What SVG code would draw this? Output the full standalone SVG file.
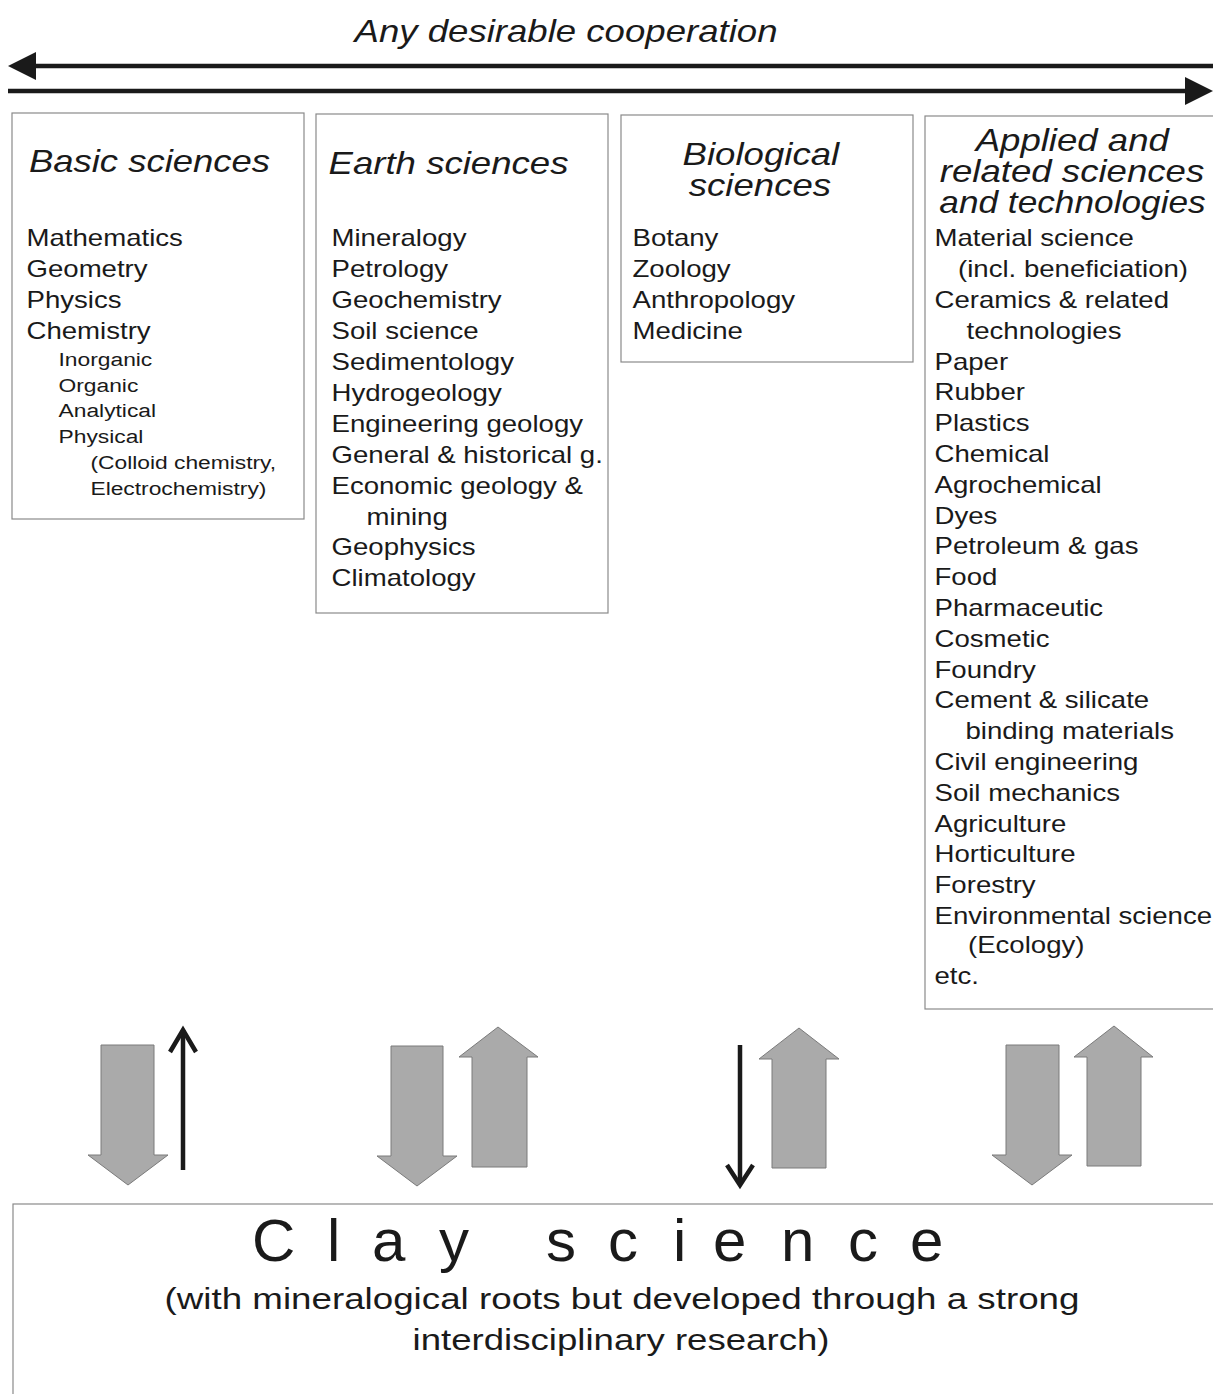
<svg xmlns="http://www.w3.org/2000/svg" width="1213" height="1394" viewBox="0 0 1213 1394">
<style>
text{font-family:"Liberation Sans",Arial,sans-serif;fill:#1a1a1a}
.item{font-size:23px}
.sub{font-size:19px}
.hdr{font-size:30.5px;font-style:italic}
.box{fill:#fff;stroke:#8a8a8a;stroke-width:1.2}
.blk{fill:#aaaaaa;stroke:#7a7a7a;stroke-width:1}
.thin{fill:none;stroke:#1a1a1a;stroke-width:4.5;stroke-linejoin:miter}
.bar{stroke:#1a1a1a;stroke-width:4.5;fill:none}
</style>
<defs>
<marker id="tri" markerUnits="userSpaceOnUse" markerWidth="30" markerHeight="30" viewBox="0 -15 30 30" refX="0" refY="0" orient="auto">
<path d="M0,-14 L28,0 L0,14 Z" fill="#1a1a1a"/>
</marker>
</defs>
<rect width="1213" height="1394" fill="#fff"/>

<g id="connectors">
<text x="566" y="42" font-size="30.5" font-style="italic" text-anchor="middle" textLength="423" lengthAdjust="spacingAndGlyphs">Any desirable cooperation</text>
<line class="bar" x1="1213" y1="66" x2="36" y2="66" marker-end="url(#tri)"/>
<line class="bar" x1="8" y1="91" x2="1185" y2="91" marker-end="url(#tri)"/>
<!-- basic sciences -->
<path class="blk" d="M101,1045 L154,1045 L154,1155 L168,1155 L128,1185 L88,1155 L101,1155 Z"/>
<path class="thin" d="M183,1170 L183,1030"/>
<path class="thin" d="M170,1052 L183,1030 L196,1052"/>
<!-- earth sciences -->
<path class="blk" d="M391,1046 L443,1046 L443,1156 L457,1156 L417,1186 L377,1156 L391,1156 Z"/>
<path class="blk" d="M472,1167 L527,1167 L527,1057 L538,1057 L498,1027 L459,1057 L472,1057 Z"/>
<!-- biological sciences -->
<path class="thin" d="M740,1045 L740,1183"/>
<path class="thin" d="M727,1165 L740,1185 L753,1165"/>
<path class="blk" d="M772,1168 L826,1168 L826,1059 L839,1059 L799,1028 L759,1059 L772,1059 Z"/>
<!-- applied sciences -->
<path class="blk" d="M1006,1045 L1059,1045 L1059,1155 L1072,1155 L1032,1185 L992,1155 L1006,1155 Z"/>
<path class="blk" d="M1087,1166 L1141,1166 L1141,1057 L1153,1057 L1114,1026 L1074,1057 L1087,1057 Z"/>
</g>

<g id="basic-sciences">
<rect class="box" x="12" y="113" width="292" height="406"/>
<g transform="translate(26.5,0) scale(1.2,1)">
<text class="hdr" x="2" y="172" textLength="201" lengthAdjust="spacingAndGlyphs">Basic sciences</text>
<text class="item" x="0" y="246.5">Mathematics</text>
<text class="item" x="0" y="277.5">Geometry</text>
<text class="item" x="0" y="308.5">Physics</text>
<text class="item" x="0" y="339.5">Chemistry</text>
<text class="sub" x="26.7" y="366">Inorganic</text>
<text class="sub" x="26.7" y="392">Organic</text>
<text class="sub" x="26.7" y="417">Analytical</text>
<text class="sub" x="26.7" y="443">Physical</text>
<text class="sub" x="53.3" y="469">(Colloid chemistry,</text>
<text class="sub" x="53.3" y="495">Electrochemistry)</text>
</g>
</g>

<g id="earth-sciences">
<rect class="box" x="316" y="114" width="292" height="499"/>
<g transform="translate(331.5,0) scale(1.2,1)">
<text class="hdr" x="-2.5" y="174" textLength="200" lengthAdjust="spacingAndGlyphs">Earth sciences</text>
<text class="item" x="0" y="246.5">Mineralogy</text>
<text class="item" x="0" y="277.4">Petrology</text>
<text class="item" x="0" y="308.3">Geochemistry</text>
<text class="item" x="0" y="339.2">Soil science</text>
<text class="item" x="0" y="370.1">Sedimentology</text>
<text class="item" x="0" y="401">Hydrogeology</text>
<text class="item" x="0" y="431.9">Engineering geology</text>
<text class="item" x="0" y="462.8">General &amp; historical g.</text>
<text class="item" x="0" y="493.7">Economic geology &amp;</text>
<text class="item" x="29.2" y="524.6">mining</text>
<text class="item" x="0" y="555.5">Geophysics</text>
<text class="item" x="0" y="586.4">Climatology</text>
</g>
</g>

<g id="biological-sciences">
<rect class="box" x="621" y="115" width="292" height="247"/>
<g transform="translate(632.5,0) scale(1.2,1)">
<text class="hdr" x="107" y="165" text-anchor="middle">Biological</text>
<text class="hdr" x="106.2" y="196" text-anchor="middle">sciences</text>
<text class="item" x="0" y="246.5">Botany</text>
<text class="item" x="0" y="277.5">Zoology</text>
<text class="item" x="0" y="308.5">Anthropology</text>
<text class="item" x="0" y="339.5">Medicine</text>
</g>
</g>

<g id="applied-sciences">
<rect class="box" x="925" y="116" width="300" height="893"/>
<g transform="translate(934.5,0) scale(1.2,1)">
<text class="hdr" x="114.8" y="151" text-anchor="middle">Applied and</text>
<text class="hdr" x="114.6" y="182" text-anchor="middle">related sciences</text>
<text class="hdr" x="115" y="213" text-anchor="middle" textLength="222" lengthAdjust="spacingAndGlyphs">and technologies</text>
<text class="item" x="0" y="246.5">Material science</text>
<text class="item" x="19.6" y="277.3">(incl. beneficiation)</text>
<text class="item" x="0" y="308.1">Ceramics &amp; related</text>
<text class="item" x="26.7" y="338.9">technologies</text>
<text class="item" x="0" y="369.7">Paper</text>
<text class="item" x="0" y="400.5">Rubber</text>
<text class="item" x="0" y="431.3">Plastics</text>
<text class="item" x="0" y="462.1">Chemical</text>
<text class="item" x="0" y="492.9">Agrochemical</text>
<text class="item" x="0" y="523.7">Dyes</text>
<text class="item" x="0" y="554.5">Petroleum &amp; gas</text>
<text class="item" x="0" y="585.3">Food</text>
<text class="item" x="0" y="616.1">Pharmaceutic</text>
<text class="item" x="0" y="646.9">Cosmetic</text>
<text class="item" x="0" y="677.7">Foundry</text>
<text class="item" x="0" y="708.5">Cement &amp; silicate</text>
<text class="item" x="25.8" y="739.3">binding materials</text>
<text class="item" x="0" y="770.1">Civil engineering</text>
<text class="item" x="0" y="800.9">Soil mechanics</text>
<text class="item" x="0" y="831.7">Agriculture</text>
<text class="item" x="0" y="862.5">Horticulture</text>
<text class="item" x="0" y="893.3">Forestry</text>
<text class="item" x="0" y="924.1">Environmental science</text>
<text class="item" x="27.9" y="953">(Ecology)</text>
<text class="item" x="0" y="984">etc.</text>
</g>
</g>

<g id="clay-science">
<rect class="box" x="13" y="1204" width="1220" height="220"/>
<text font-size="60" y="1261" x="252 327 372 439 500 546 608 673 713 781 848 910">Clay science</text>
<text font-size="30" x="622" y="1309" text-anchor="middle" textLength="915" lengthAdjust="spacingAndGlyphs">(with mineralogical roots but developed through a strong</text>
<text font-size="30" x="621" y="1350" text-anchor="middle" textLength="417" lengthAdjust="spacingAndGlyphs">interdisciplinary research)</text>
</g>
</svg>
